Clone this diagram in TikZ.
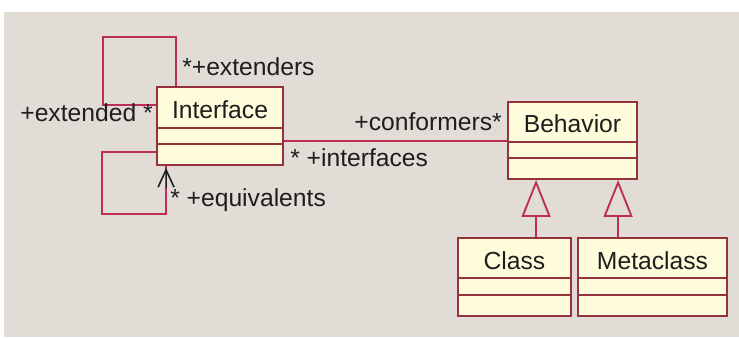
\documentclass[tikz,border=0pt]{standalone}
\usepackage{fontspec}
\setmainfont{Liberation Sans}
\usetikzlibrary{arrows.meta,calc}
\definecolor{bgray}{RGB}{225,220,214}
\definecolor{lnred}{RGB}{190,45,85}
\definecolor{boxln}{RGB}{150,50,62}
\definecolor{boxfill}{RGB}{255,252,220}
\definecolor{txt}{RGB}{30,30,30}
\begin{document}
\begin{tikzpicture}[x=0.75pt,y=-0.75pt,
  cls/.style={draw=boxln,fill=boxfill,line width=1.4pt,inner sep=0pt,rectangle},
  divider/.style={draw=boxln,line width=1.4pt},
  assoc/.style={draw=lnred,line width=1.4pt},
  lbl/.style={text=txt,inner sep=0pt,font=\fontsize{18.5}{20}\selectfont},
  gen/.style={draw=lnred,line width=1.4pt,-{Triangle[open,length=27.75pt,width=21.75pt]}},
  nav/.style={-{Straight Barb[length=13pt,width=12pt,line width=1.2pt]}}
]
\useasboundingbox (0,0) rectangle (739,337);
\fill[white] (0,0) rectangle (739,337);
\fill[bgray] (4,12) rectangle (739,337);

% class boxes
\node[cls,minimum width=94.5pt,minimum height=58.5pt] (iface) at (220,126) {};
\node[cls,minimum width=96.75pt,minimum height=57.75pt] (beh) at (572.5,140.5) {};
\node[cls,minimum width=84.75pt,minimum height=58.5pt] (cls) at (514.5,277) {};
\node[cls,minimum width=111.75pt,minimum height=58.5pt] (meta) at (652.5,277) {};

% dividers
\draw[divider] ($(iface.north west)+(0,42)$) -- ($(iface.north east)+(0,42)$);
\draw[divider] ($(iface.north west)+(0,58)$) -- ($(iface.north east)+(0,58)$);
\draw[divider] ($(beh.north west)+(0,41)$) -- ($(beh.north east)+(0,41)$);
\draw[divider] ($(beh.north west)+(0,57)$) -- ($(beh.north east)+(0,57)$);
\draw[divider] ($(cls.north west)+(0,41)$) -- ($(cls.north east)+(0,41)$);
\draw[divider] ($(cls.north west)+(0,58)$) -- ($(cls.north east)+(0,58)$);
\draw[divider] ($(meta.north west)+(0,41)$) -- ($(meta.north east)+(0,41)$);
\draw[divider] ($(meta.north west)+(0,58)$) -- ($(meta.north east)+(0,58)$);

% names
\node[lbl] (ifacename) at ($(iface.north)+(0,24)$) {Interface};
\node[lbl] (behname) at ($(beh.north)+(0,23)$) {Behavior};
\node[lbl] (clsname) at ($(cls.north)+(0,24)$) {Class};
\node[lbl] (metaname) at ($(meta.north)+(0,24)$) {Metaclass};

% self association (extenders / extended)
\coordinate (e1) at ($(iface.north west)+(0,19)$);
\coordinate (e2) at ($(iface.north west)+(20,0)$);
\draw[assoc] (e1) -- ++(-53,0) -- ++(0,-68) -| (e2);

% self association (equivalents)
\coordinate (q1) at ($(iface.north west)+(0,66)$);
\coordinate (q2) at ($(iface.south west)+(10,0)$);
\draw[assoc] (q1) -- ++(-54,0) -- ++(0,62) -| (q2);
\draw[nav,draw=txt] ($(q2)+(0,22)$) -- ($(q2)+(0,2)$);

% association Interface -- Behavior
\coordinate (a1) at ($(iface.north east)+(0,55)$);
\draw[assoc] (a1) -- (a1 -| beh.west);

% generalizations
\coordinate (g1) at ($(cls.north west)+(79,0)$);
\coordinate (g2) at ($(meta.north west)+(41,0)$);
\draw[gen] (g1) -- (g1 |- beh.south);
\draw[gen] (g2) -- (g2 |- beh.south);

% role labels
\node[lbl,anchor=west] (lext) at (182,67) {*+extenders};
\node[lbl,anchor=east] (lexd) at (153,113) {+extended *};
\node[lbl,anchor=west] (lequ) at (170,200) {* +equivalents};
\node[lbl,anchor=east] (lcon) at (502,122) {+conformers*};
\node[lbl,anchor=west] (lint) at (290,158) {* +interfaces};
\end{tikzpicture}
\end{document}
